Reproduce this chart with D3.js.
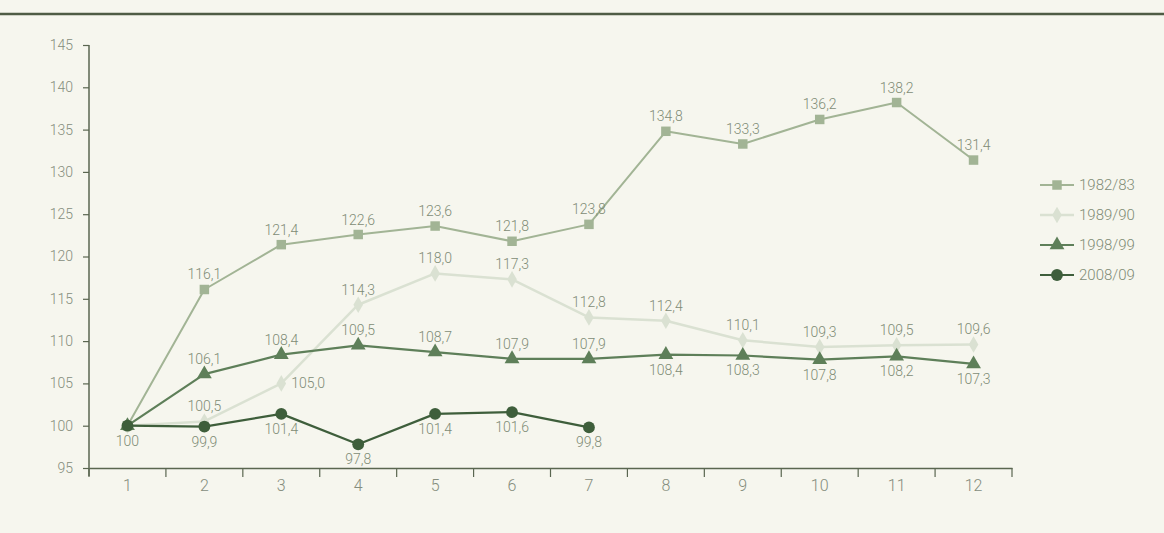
<!DOCTYPE html>
<html><head><meta charset="utf-8">
<script src="https://cdn.jsdelivr.net/npm/d3@7"></script>
<style>
html,body{margin:0;padding:0;background:#f6f6ee;}
svg{display:block;}
text{font-family:Roboto,'Liberation Sans',sans-serif;font-weight:300;}
</style></head>
<body>
<svg id="c" width="1164" height="533"></svg>
<script>
const months = [1,2,3,4,5,6,7,8,9,10,11,12];
const yTicks = [95,100,105,110,115,120,125,130,135,140,145];
const seriesNames = ["1982/83","1989/90","1998/99","2008/09"];
const v1982 = [100,116.1,121.4,122.6,123.6,121.8,123.8,134.8,133.3,136.2,138.2,131.4];
const v1989 = [100,100.5,105.0,114.3,118.0,117.3,112.8,112.4,110.1,109.3,109.5,109.6];
const v1998 = [100,106.1,108.4,109.5,108.7,107.9,107.9,108.4,108.3,107.8,108.2,107.3];
const v2008 = [100,99.9,101.4,97.8,101.4,101.6,99.8];
const labelText = [
  ["","116,1","121,4","122,6","123,6","121,8","123,8","134,8","133,3","136,2","138,2","131,4"],
  ["","100,5","105,0","114,3","118,0","117,3","112,8","112,4","110,1","109,3","109,5","109,6"],
  ["","106,1","108,4","109,5","108,7","107,9","107,9","108,4","108,3","107,8","108,2","107,3"],
  ["100","99,9","101,4","97,8","101,4","101,6","99,8"]
];

// styling / placement (not data)
const place = [
  Array(12).fill("a"),
  ["a","a","r","a","a","a","a","a","a","a","a","a"],
  ["a","a","a","a","a","a","a","b","b","b","b","b"],
  Array(7).fill("b")
];
const colors = ["#a2b495","#dae1d2","#5e7f59","#3e5e3b"];
const lineW = [2,2.5,2.2,2.2];
const symbols = [d3.symbolSquare,d3.symbolDiamond,d3.symbolTriangle,d3.symbolCircle];
const symSize = [90,80,95,110];
const textColor = "#7f8c76";

const svg = d3.select("#c");
const x = d3.scaleBand().domain(months).range([89,1012]);
const y = d3.scaleLinear().domain([95,145]).range([468,45]);

// top rule
svg.append("line").attr("x1",0).attr("x2",1164).attr("y1",14).attr("y2",14)
  .attr("stroke","#4f5c45").attr("stroke-width",2.5);

// y axis
const ya = svg.append("g").attr("transform","translate(89,0)")
  .call(d3.axisLeft(y).tickValues(yTicks).tickSize(6).tickPadding(10).tickFormat(d3.format("d")));
ya.select(".domain").attr("stroke","#5a6650").attr("stroke-width",1.5).attr("d","M0,45V476");
ya.selectAll(".tick line").attr("stroke","#5a6650").attr("stroke-width",1.2);
ya.selectAll(".tick text").attr("fill","#858d7d").attr("font-size",14);

// x axis
const xa = svg.append("g").attr("transform","translate(0,468)")
  .call(d3.axisBottom(x).tickSize(0).tickPadding(12));
xa.select(".domain").attr("stroke","#5a6650").attr("stroke-width",1.5);
xa.selectAll(".tick text").attr("fill","#858d7d").attr("font-size",16);
xa.selectAll(".bt").data(months.concat([13])).enter().append("line")
  .attr("x1",d=> d<=12 ? x(d) : x(12)+x.bandwidth())
  .attr("x2",d=> d<=12 ? x(d) : x(12)+x.bandwidth())
  .attr("y1",0).attr("y2",9).attr("stroke","#5a6650").attr("stroke-width",1.2);

const allVals = [v1982,v1989,v1998,v2008];
const cx = m => x(m) + x.bandwidth()/2;
const line = d3.line().x((d,i)=>cx(months[i])).y(d=>y(d));

allVals.forEach((vals,s)=>{
  const g = svg.append("g");
  g.append("path").datum(vals).attr("d",line).attr("fill","none")
    .attr("stroke",colors[s]).attr("stroke-width",lineW[s]).attr("stroke-linejoin","round");
  g.selectAll("path.m").data(vals).enter().append("path").attr("class","m")
    .attr("d",d3.symbol().type(symbols[s]).size(symSize[s]))
    .attr("transform",(d,i)=>`translate(${cx(months[i])},${y(d)})`)
    .attr("fill",colors[s]);
});

// labels
allVals.forEach((vals,s)=>{
  svg.append("g").selectAll("text").data(vals).enter().append("text")
    .attr("x",(d,i)=> place[s][i]==="r" ? cx(months[i])+10 : cx(months[i]))
    .attr("y",(d,i)=> place[s][i]==="a" ? y(d)-10 : place[s][i]==="b" ? y(d)+20 : y(d)+5)
    .attr("text-anchor",(d,i)=> place[s][i]==="r" ? "start" : "middle")
    .attr("font-size",14).attr("fill",textColor)
    .text((d,i)=>labelText[s][i]);
});

// legend
const lg = svg.append("g").attr("transform","translate(1040,185)");
seriesNames.forEach((n,s)=>{
  const gy = s*30;
  lg.append("line").attr("x1",0).attr("x2",34).attr("y1",gy).attr("y2",gy)
    .attr("stroke",colors[s]).attr("stroke-width",lineW[s]);
  lg.append("path").attr("d",d3.symbol().type(symbols[s]).size(symSize[s]))
    .attr("transform",`translate(17,${gy})`).attr("fill",colors[s]);
  lg.append("text").attr("x",39).attr("y",gy+5).attr("font-size",15)
    .attr("fill",textColor).text(n);
});
</script>
</body></html>
